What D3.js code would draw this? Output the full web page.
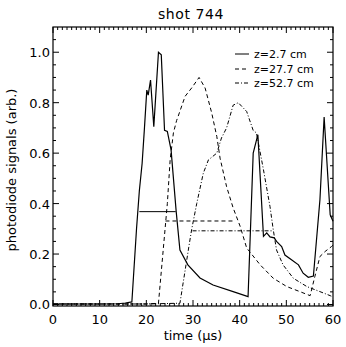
<html>
<script src="https://d3js.org/d3.v7.min.js"></script>
<style>
body {margin: 0; background: white;}
text {font-family: "DejaVu Sans", sans-serif; fill: black;}
</style>
<body>
<svg id="chart" width="346" height="347"></svg>
<script>
// z=2.7 cm (solid)
var tSolid = [0, 10, 14, 15.5, 16.9, 17.9, 18.5, 19.1, 19.6, 20.1, 20.4, 20.9, 21.6, 22.6, 23.2, 23.9, 24.5, 25.3, 26.4, 27.2, 28.9, 31.5, 34.3, 38.6, 41.8,
              42.9, 43.9, 45.1, 45.8, 46.5, 47.4, 47.9, 49.0, 49.7, 51.1, 52.6, 53.6, 54.7, 55.8, 57.2, 58.1, 59.4, 60];
var vSolid = [0.002, 0.002, 0.003, 0.006, 0.01, 0.3, 0.45, 0.56, 0.7, 0.85, 0.83, 0.89, 0.705, 1.0, 0.99, 0.69, 0.686, 0.613, 0.368, 0.216, 0.157, 0.105, 0.077, 0.051, 0.031,
              0.6, 0.673, 0.27, 0.284, 0.268, 0.264, 0.25, 0.23, 0.196, 0.177, 0.157, 0.124, 0.108, 0.113, 0.415, 0.743, 0.355, 0.33];
// z=27.7 cm (dashed)
var tDash = [0, 10, 20, 22.6, 24.0, 24.5, 25.1, 25.8, 26.5, 26.8, 28.3, 29.7, 31.3, 32.6, 34.0, 35.1, 35.8, 37.2, 38.6, 40.1, 41.5, 44.4, 47.2, 50.1, 52.9, 55.1,
             56.1, 57.2, 58.3, 59.7, 60];
var vDash = [0.002, 0.002, 0.002, 0.005, 0.296, 0.40, 0.573, 0.68, 0.73, 0.745, 0.825, 0.858, 0.90, 0.858, 0.76, 0.666, 0.58, 0.467, 0.383, 0.31, 0.224, 0.157, 0.104, 0.071, 0.051, 0.035,
             0.11, 0.19, 0.21, 0.23, 0.235];
// z=52.7 cm (dash-dot)
var tDot = [0, 10, 20, 27.2, 29.0, 29.7, 30.8, 32.2, 33.3, 35.1, 36.1, 37.2, 38.6, 39.7, 41.5, 42.9, 43.6, 45.1, 46.5, 47.2, 47.9, 49.3, 51.5, 54.4, 57.2, 59.4, 60];
var vDot = [0.002, 0.002, 0.002, 0.005, 0.216, 0.296, 0.40, 0.52, 0.573, 0.60, 0.66, 0.70, 0.79, 0.80, 0.765, 0.69, 0.68, 0.534, 0.388, 0.296, 0.216, 0.157, 0.104, 0.071, 0.051, 0.035, 0.03];

// half-maximum markers
var halfStart = [18.5, 24.1, 29.9];
var halfEnd = [26.3, 38.6, 47.1];
var halfLevel = [0.368, 0.331, 0.292];

var seriesNames = ["z=2.7 cm", "z=27.7 cm", "z=52.7 cm"];
var dashes = ["none", "4,3", "4,2,1,2"];

var xTicks = [0, 10, 20, 30, 40, 50, 60];
var yTicks = [0, 0.2, 0.4, 0.6, 0.8, 1.0];

function draw() {
    var left = 53, right = 333, plotTop = 27, bottom = 306;
    var svg = d3.select("#chart");

    var x = d3.scaleLinear().domain([0, 60]).range([left, right]);
    var y = d3.scaleLinear().domain([-0.006, 1.1]).range([bottom, plotTop]);

    var line = d3.line().x(function(d) {return x(d[0]);}).y(function(d) {return y(d[1]);});

    var curves = [[tSolid, vSolid], [tDash, vDash], [tDot, vDot]];
    curves.forEach(function(c, i) {
        var pts = c[0].map(function(t, j) {return [t, c[1][j]];});
        svg.append("path")
            .attr("d", line(pts))
            .attr("fill", "none")
            .attr("stroke", "black")
            .attr("stroke-width", i == 0 ? 1.2 : 1)
            .attr("stroke-dasharray", dashes[i]);
        svg.append("line")
            .attr("x1", x(halfStart[i])).attr("x2", x(halfEnd[i]))
            .attr("y1", y(halfLevel[i])).attr("y2", y(halfLevel[i]))
            .attr("stroke", "black")
            .attr("stroke-width", 1)
            .attr("stroke-dasharray", dashes[i]);
    });

    // frame
    svg.append("rect")
        .attr("x", left).attr("y", plotTop)
        .attr("width", right - left).attr("height", bottom - plotTop)
        .attr("fill", "none").attr("stroke", "black").attr("stroke-width", 1.2);

    // ticks (inside, on all four sides)
    var xMinor = d3.range(0, 61, 1);
    var yMinor = d3.range(0, 1.1, 0.05);
    var tg = svg.append("g").attr("stroke", "black").attr("stroke-width", 1);
    xMinor.forEach(function(t) {
        var len = (t % 10 == 0) ? 6 : 3;
        tg.append("line").attr("x1", x(t)).attr("x2", x(t)).attr("y1", bottom).attr("y2", bottom - len);
        tg.append("line").attr("x1", x(t)).attr("x2", x(t)).attr("y1", plotTop).attr("y2", plotTop + len);
    });
    yMinor.forEach(function(v, k) {
        var len = (k % 4 == 0) ? 6 : 3;
        tg.append("line").attr("y1", y(v)).attr("y2", y(v)).attr("x1", left).attr("x2", left + len);
        tg.append("line").attr("y1", y(v)).attr("y2", y(v)).attr("x1", right).attr("x2", right - len);
    });

    // tick labels
    xTicks.forEach(function(t) {
        svg.append("text").attr("x", x(t)).attr("y", bottom + 18)
            .attr("text-anchor", "middle").style("font-size", "13px").text(t);
    });
    yTicks.forEach(function(v) {
        svg.append("text").attr("x", left - 3).attr("y", y(v) + 5)
            .attr("text-anchor", "end").style("font-size", "13px").text(d3.format(".1f")(v));
    });

    // titles
    svg.append("text").attr("x", 191).attr("y", 19)
        .attr("text-anchor", "middle").style("font-size", "14px").style("letter-spacing", "0.6px").text("shot 744");
    svg.append("text").attr("x", 193).attr("y", 340)
        .attr("text-anchor", "middle").style("font-size", "13px").text("time (\u03bcs)");
    svg.append("text")
        .attr("transform", "translate(16,170) rotate(-90)")
        .attr("text-anchor", "middle").style("font-size", "13px").text("photodiode signals (arb.)");

    // legend
    var legY = [54, 69, 83];
    seriesNames.forEach(function(name, i) {
        svg.append("line")
            .attr("x1", 235).attr("x2", 249).attr("y1", legY[i]).attr("y2", legY[i])
            .attr("stroke", "black").attr("stroke-width", 1).attr("stroke-dasharray", dashes[i]);
        svg.append("text").attr("x", 254).attr("y", legY[i] + 4)
            .style("font-size", "11px").text(name);
    });
}
draw();
</script>
</body>
</html>
